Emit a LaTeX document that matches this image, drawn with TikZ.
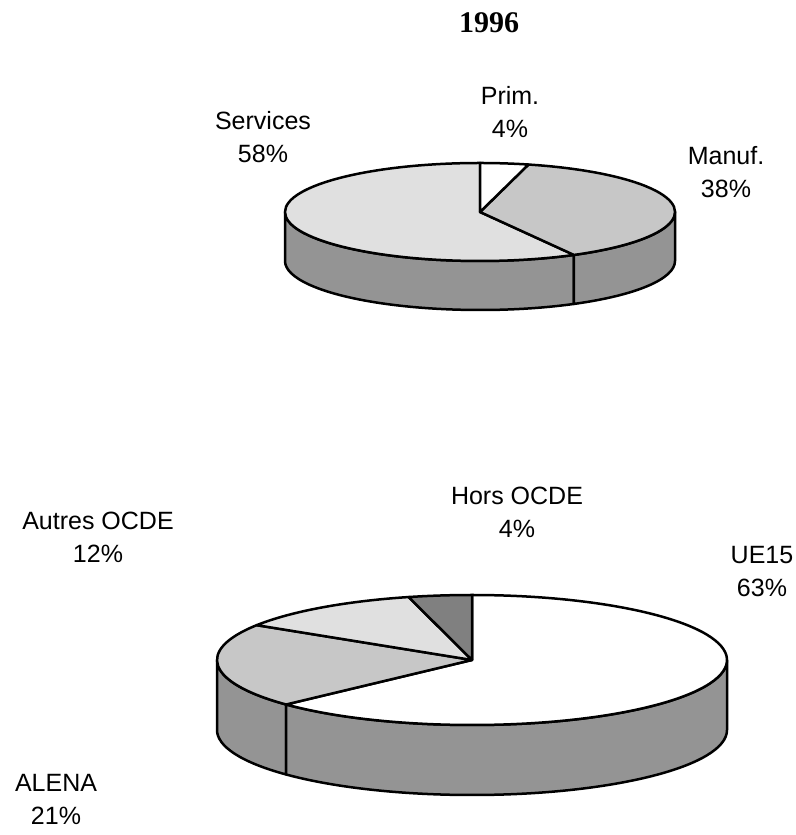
\documentclass[tikz,border=0pt]{standalone}
\usepackage{fontspec}
\setmainfont{Liberation Serif}
\newfontfamily\labfont{Liberation Sans}
\definecolor{sidegray}{gray}{0.58}
\definecolor{lightgray}{gray}{0.88}
\definecolor{midgray}{gray}{0.78}
\definecolor{darkgray}{gray}{0.50}
\begin{document}
\begin{tikzpicture}[x=1pt,y=1pt,
  outl/.style={draw=black, line width=2.5pt, line join=round},
  lbl/.style={font=\labfont\fontsize{25}{33}\selectfont, align=center, inner sep=0pt}]
\useasboundingbox (0,0) rectangle (795,835);
\fill[white] (0,0) rectangle (795,835);

% ---------- top pie ----------
\coordinate (TC) at (480,623);
\tikzset{tr/.style={x radius=195pt, y radius=49pt}}
% sides
\draw[outl, fill=sidegray] ([shift={(180:195pt and 49pt)}]TC) arc[start angle=180, end angle=298.8, tr] -- ++(0,-49pt) arc[start angle=298.8, end angle=180, tr] -- cycle;
\draw[outl, fill=sidegray] ([shift={(298.8:195pt and 49pt)}]TC) arc[start angle=298.8, end angle=360, tr] -- ++(0,-49pt) arc[start angle=360, end angle=298.8, tr] -- cycle;
% top slices
\draw[outl, fill=lightgray] (TC) -- ([shift={(90:195pt and 49pt)}]TC) arc[start angle=90, end angle=298.8, tr] -- cycle;
\draw[outl, fill=midgray] (TC) -- ([shift={(-61.2:195pt and 49pt)}]TC) arc[start angle=-61.2, end angle=75.6, tr] -- cycle;
\draw[outl, fill=white] (TC) -- ([shift={(75.6:195pt and 49pt)}]TC) arc[start angle=75.6, end angle=90, tr] -- cycle;

% ---------- bottom pie ----------
\coordinate (BC) at (472,175);
\tikzset{br/.style={x radius=255pt, y radius=65pt}}
\draw[outl, fill=sidegray] ([shift={(180:255pt and 65pt)}]BC) arc[start angle=180, end angle=223.2, br] -- ++(0,-70pt) arc[start angle=223.2, end angle=180, br] -- cycle;
\draw[outl, fill=sidegray] ([shift={(223.2:255pt and 65pt)}]BC) arc[start angle=223.2, end angle=360, br] -- ++(0,-70pt) arc[start angle=360, end angle=223.2, br] -- cycle;
\draw[outl, fill=white] (BC) -- ([shift={(-136.8:255pt and 65pt)}]BC) arc[start angle=-136.8, end angle=90, br] -- cycle;
\draw[outl, fill=midgray] (BC) -- ([shift={(147.6:255pt and 65pt)}]BC) arc[start angle=147.6, end angle=223.2, br] -- cycle;
\draw[outl, fill=lightgray] (BC) -- ([shift={(104.4:255pt and 65pt)}]BC) arc[start angle=104.4, end angle=147.6, br] -- cycle;
\draw[outl, fill=darkgray] (BC) -- ([shift={(90:255pt and 65pt)}]BC) arc[start angle=90, end angle=104.4, br] -- cycle;

% ---------- labels ----------
\node[font=\bfseries\fontsize{30}{34}\selectfont, inner sep=0pt] (title) at (489,812.5) {1996};
\node[lbl] (services) at (263,697.5) {Services\\58\%};
\node[lbl] (prim) at (510,722.5) {Prim.\\4\%};
\node[lbl] (manuf) at (726,662.5) {Manuf.\\38\%};
\node[lbl] (hors) at (517,322.5) {Hors OCDE\\4\%};
\node[lbl] (autres) at (98,297.5) {Autres OCDE\\12\%};
\node[lbl] (ue) at (762,263.5) {UE15\\63\%};
\node[lbl] (alena) at (56,35.5) {ALENA\\21\%};
\end{tikzpicture}
\end{document}
